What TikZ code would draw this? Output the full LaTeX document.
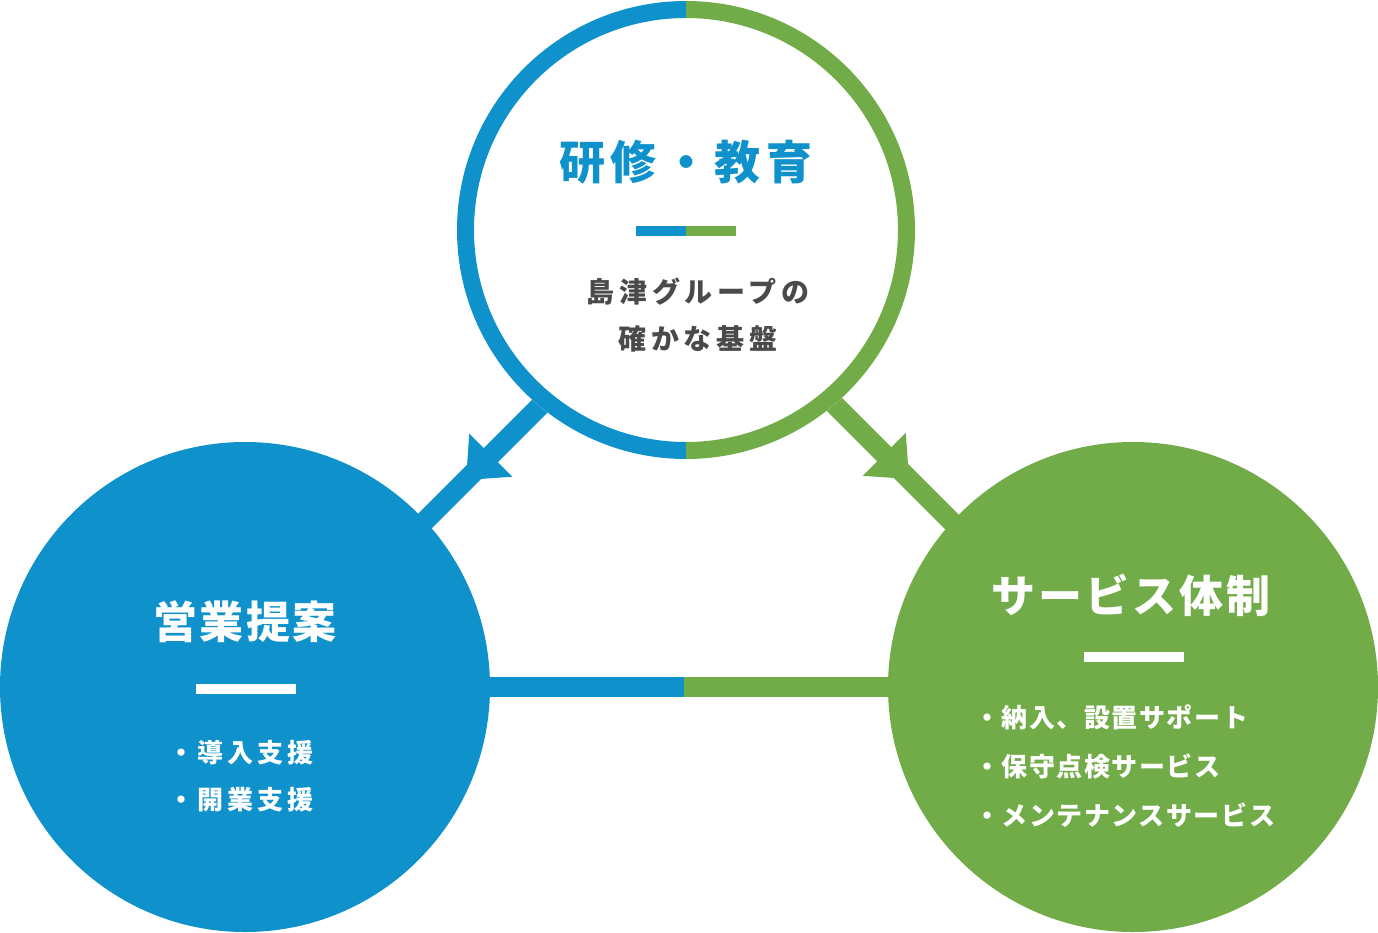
\documentclass[tikz,border=0pt]{standalone}
\usepackage{fontspec}
\newfontfamily\jp{Noto Sans CJK JP}
\usetikzlibrary{backgrounds,decorations.markings}
\definecolor{cblue}{HTML}{0F91CC}
\definecolor{cgreen}{HTML}{71AC48}
\definecolor{cgray}{HTML}{4A4A4A}
\newcommand{\jsize}[2]{\jp\bfseries\fontsize{#1}{#1}\selectfont\addfontfeatures{LetterSpace=#2}}
\tikzset{
  bigdisk/.style={circle, minimum size=490pt, inner sep=0pt, outer sep=0pt},
  ringdisk/.style={circle, minimum size=458pt, inner sep=0pt, outer sep=0pt, fill=white},
  conn/.style={line width=20pt},
  ring/.style={line width=17pt},
  txt/.style={inner sep=0pt, outer sep=0pt},
  arrowat/.style={postaction={decorate}, decoration={markings,
     mark=at position #1 with {\fill (0pt,0pt) -- (-35pt,30.5pt) -- (-35pt,-30.5pt) -- cycle;}}},
}
\begin{document}
\begin{tikzpicture}[x=1pt,y=-1pt]
\useasboundingbox (0,0) rectangle (1378,932);
% main shapes
\node[ringdisk] (top) at (686,230) {};
\node[bigdisk, fill=cblue] (left) at (245,687) {};
\node[bigdisk, fill=cgreen] (right) at (1133,687) {};
\begin{scope}
  \clip (440,-5) rectangle (686,470);
  \draw[cblue, ring] (top.center) circle[radius=220.5pt];
\end{scope}
\begin{scope}
  \clip (686,-5) rectangle (935,470);
  \draw[cgreen, ring] (top.center) circle[radius=220.5pt];
\end{scope}
% connectors
\begin{scope}[on background layer]
  \coordinate (hmid) at (684,687);
  \draw[conn, cblue] ([xshift=-10]left.east) -- (hmid);
  \draw[conn, cgreen] (hmid) -- ([xshift=10]right.west);
  \draw[conn, cblue, arrowat=0.606] ([shift={(35.9,-5.9)}]top.-135) -- ([shift={(-13.2,27.2)}]left.45);
  \draw[conn, cgreen, arrowat=0.6] ([shift={(-31.9,-5.9)}]top.-45) -- ([shift={(11.2,27.2)}]right.135);
\end{scope}
% top circle texts
\node[txt, text=cblue, font={\jsize{46pt}{13}}] (t1) at (686,162) {研修・教育};
\fill[cblue] (636,226) rectangle (686,236);
\fill[cgreen] (686,226) rectangle (736,236);
\node[txt, text=cgray, font={\jsize{28pt}{17}}] (s1) at (698,292) {島津グループの};
\node[txt, text=cgray, font={\jsize{28pt}{17}}] (s2) at (698,339) {確かな基盤};
% left circle texts
\node[txt, text=white, font={\jsize{44pt}{5}}] (t2) at (245,622) {営業提案};
\fill[white] (196,684) rectangle (296,694);
\node[txt, text=white, anchor=west, font={\jsize{26pt}{15}}] (l1) at (168,753) {・導入支援};
\node[txt, text=white, anchor=west, font={\jsize{26pt}{15}}] (l2) at (168,800) {・開業支援};
% right circle texts
\node[txt, text=white, font={\jsize{44pt}{7}}] (t3) at (1131,595) {サービス体制};
\fill[white] (1084,652) rectangle (1184,662);
\node[txt, text=white, anchor=west, font={\jsize{26pt}{6}}] (r1) at (974,717) {・納入、設置サポート};
\node[txt, text=white, anchor=west, font={\jsize{26pt}{6}}] (r2) at (974,766) {・保守点検サービス};
\node[txt, text=white, anchor=west, font={\jsize{26pt}{6}}] (r3) at (974,815) {・メンテナンスサービス};
\end{tikzpicture}
\end{document}
